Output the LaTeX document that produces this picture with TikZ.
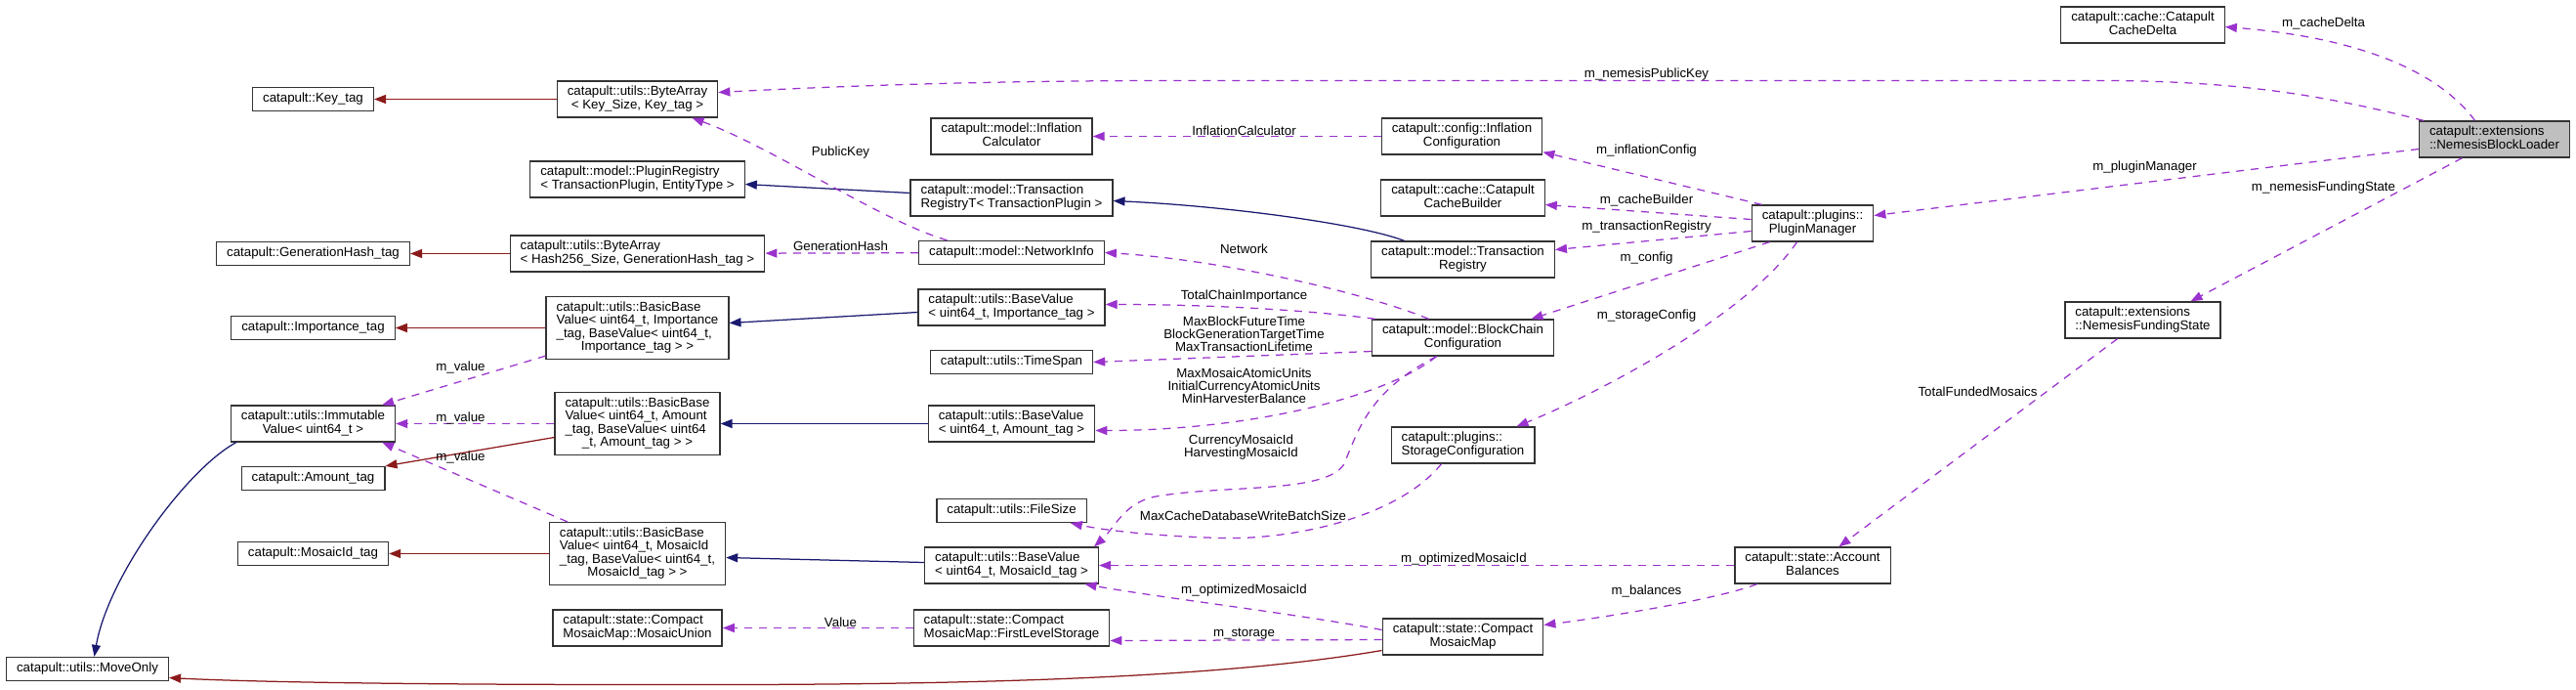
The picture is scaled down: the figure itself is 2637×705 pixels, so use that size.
\documentclass[tikz,border=0pt]{standalone}
\usepackage{fontspec}
\setmainfont{Liberation Sans}
\usetikzlibrary{arrows.meta,scopes}
\definecolor{membercol}{HTML}{9A32CD}
\definecolor{inhcol}{HTML}{191970}
\definecolor{tmplcol}{HTML}{8B1A1A}
\newcommand\dfont{\fontsize{13.3}{13}\selectfont}
\newcommand\twol[2]{\begin{tabular}{@{}l@{}}#1\\\multicolumn{1}{@{}c@{}}{#2}\end{tabular}}
\newcommand\fourl[4]{\begin{tabular}{@{}l@{}}#1\\#2\\#3\\\multicolumn{1}{@{}c@{}}{#4}\end{tabular}}
\begin{document}
\begin{tikzpicture}[
    x=1pt,y=-1pt,
    cls/.style={rectangle,draw=black!80,fill=white,line width=1.3pt,inner xsep=10.5pt,inner ysep=2pt,minimum height=24pt,font=\dfont},
    cls2/.style={cls,minimum height=37pt},
    cls4/.style={cls,minimum height=64pt},
    member/.style={draw=membercol,line width=1.25pt,dash pattern=on 8pt off 7pt,>={Triangle[length=12pt,width=9pt]}},
    inherit/.style={draw=inhcol,line width=1.25pt,>={Triangle[length=12pt,width=9pt]}},
    tmplinst/.style={draw=tmplcol,line width=1.25pt,>={Triangle[length=12pt,width=9pt]}},
    lbl/.style={font=\dfont,inner sep=0pt,align=center},
]
    \useasboundingbox (-0.5,-0.5) rectangle (2636.5,704.5);
    \node[cls] (keytag) at (320,101) {catapult::Key\_tag};
    \node[cls] (genhashtag) at (320,259) {catapult::GenerationHash\_tag};
    \node[cls] (imptag) at (320,335) {catapult::Importance\_tag};
    \node[cls2] (immut) at (320,433) {\twol{catapult::utils::Immutable}{Value< uint64\_t >}};
    \node[cls] (amttag) at (320,489) {catapult::Amount\_tag};
    \node[cls] (midtag) at (320,566) {catapult::MosaicId\_tag};
    \node[cls] (moveonly) at (89,684) {catapult::utils::MoveOnly};
    \node[cls2] (bakey) at (652,101) {\twol{catapult::utils::ByteArray}{< Key\_Size, Key\_tag >}};
    \node[cls2] (plugreg) at (652,183) {\twol{catapult::model::PluginRegistry}{< TransactionPlugin, EntityType >}};
    \node[cls2] (bahash) at (652,259) {\twol{catapult::utils::ByteArray}{< Hash256\_Size, GenerationHash\_tag >}};
    \node[cls4] (bbimp) at (652,335) {\fourl{catapult::utils::BasicBase}{Value< uint64\_t, Importance}{\_tag, BaseValue< uint64\_t,}{Importance\_tag > >}};
    \node[cls4] (bbamt) at (652,433) {\fourl{catapult::utils::BasicBase}{Value< uint64\_t, Amount}{\_tag, BaseValue< uint64}{\_t, Amount\_tag > >}};
    \node[cls4] (bbmid) at (652,566) {\fourl{catapult::utils::BasicBase}{Value< uint64\_t, MosaicId}{\_tag, BaseValue< uint64\_t,}{MosaicId\_tag > >}};
    \node[cls2] (mosunion) at (652,642) {\twol{catapult::state::Compact}{MosaicMap::MosaicUnion}};
    \node[cls2] (inflcalc) at (1035,139) {\twol{catapult::model::Inflation}{Calculator}};
    \node[cls2] (txregt) at (1035,202) {\twol{catapult::model::Transaction}{RegistryT< TransactionPlugin >}};
    \node[cls] (netinfo) at (1035,258) {catapult::model::NetworkInfo};
    \node[cls2] (bvimp) at (1035,314) {\twol{catapult::utils::BaseValue}{< uint64\_t, Importance\_tag >}};
    \node[cls] (timespan) at (1035,370) {catapult::utils::TimeSpan};
    \node[cls2] (bvamt) at (1035,433) {\twol{catapult::utils::BaseValue}{< uint64\_t, Amount\_tag >}};
    \node[cls] (filesize) at (1035,522) {catapult::utils::FileSize};
    \node[cls2] (bvmid) at (1035,578) {\twol{catapult::utils::BaseValue}{< uint64\_t, MosaicId\_tag >}};
    \node[cls2] (fls) at (1035,642) {\twol{catapult::state::Compact}{MosaicMap::FirstLevelStorage}};
    \node[cls2] (inflcfg) at (1496,139) {\twol{catapult::config::Inflation}{Configuration}};
    \node[cls2] (cachebld) at (1497,202) {\twol{catapult::cache::Catapult}{CacheBuilder}};
    \node[cls2] (txreg) at (1497,265) {\twol{catapult::model::Transaction}{Registry}};
    \node[cls2] (bcc) at (1497,345) {\twol{catapult::model::BlockChain}{Configuration}};
    \node[cls2] (storcfg) at (1497,455) {\twol{catapult::plugins::}{StorageConfiguration}};
    \node[cls2] (cmm) at (1497,651) {\twol{catapult::state::Compact}{MosaicMap}};
    \node[cls2] (pm) at (1855,228) {\twol{catapult::plugins::}{PluginManager}};
    \node[cls2] (acctbal) at (1855,578) {\twol{catapult::state::Account}{Balances}};
    \node[cls2] (cachedelta) at (2193,25) {\twol{catapult::cache::Catapult}{CacheDelta}};
    \node[cls2] (nfs) at (2193,327) {\twol{catapult::extensions}{::NemesisFundingState}};
    \node[cls2,fill=black!25] (nbl) at (2553,142) {\twol{catapult::extensions}{::NemesisBlockLoader}};
    {[tmplinst,->]
        \draw (bakey) -- (keytag);
        \draw (bahash) -- (genhashtag);
        \draw (bbimp) -- (imptag);
        \draw ([yshift=-14pt]bbamt.west) -- (amttag.north east);
        \draw (bbmid) -- (midtag);
        \draw ([yshift=-14pt]cmm.west) .. controls (1250,693) and (1000,701) .. (660,700) .. controls (400,700) and (250,697) .. ([yshift=-9pt]moveonly.east);
    }
    {[inherit,->]
        \draw ([xshift=6pt]immut.south west) .. controls (190,480) and (110,590) .. ([xshift=7pt]moveonly.north);
        \draw ([yshift=5pt]txregt.west) -- ([yshift=-5pt]plugreg.east);
        \draw ([xshift=-60pt]txreg.north) .. controls (1390,228) and (1250,210) .. ([yshift=-3pt]txregt.east);
        \draw ([yshift=-5pt]bvimp.west) -- ([yshift=5pt]bbimp.east);
        \draw (bvamt) -- (bbamt);
        \draw ([yshift=3pt]bvmid.west) -- ([yshift=-4pt]bbmid.east);
    }
    {[member,->]
        \draw ([xshift=5pt]nbl.north west) .. controls (2390,100) and (2300,82) .. (2150,82) -- (1200,82) .. controls (1000,82) and (850,88) .. ([yshift=7pt]bakey.east) node[lbl] at (1685,76) {m\_nemesisPublicKey};
        \draw ([xshift=-20pt]nbl.north) .. controls (2505,85) and (2440,40) .. ([yshift=-2pt]cachedelta.east) node[lbl] at (2378,23) {m\_cacheDelta};
        \draw ([yshift=-10pt]nbl.west) -- ([yshift=8pt]pm.east) node[lbl] at (2195,171) {m\_pluginManager};
        \draw ([xshift=-33pt]nbl.south) -- ([xshift=49pt]nfs.north) node[lbl] at (2378,192) {m\_nemesisFundingState};
        \draw ([xshift=-26pt]nfs.south) -- ([xshift=27pt]acctbal.north) node[lbl] at (2024,400) {TotalFundedMosaics};
        \draw (inflcfg) -- (inflcalc) node[lbl] at (1273,133) {InflationCalculator};
        \draw ([xshift=-52pt]pm.north) -- ([yshift=3pt]inflcfg.south east) node[lbl] at (1685,154) {m\_inflationConfig};
        \draw ([yshift=4pt]pm.west) -- ([yshift=-7pt]cachebld.east) node[lbl] at (1685,204) {m\_cacheBuilder};
        \draw ([yshift=-8pt]pm.west) -- ([yshift=10pt]txreg.east) node[lbl] at (1685,232) {m\_transactionRegistry};
        \draw ([xshift=-44pt]pm.south) -- ([xshift=70pt]bcc.north) node[lbl] at (1685,264) {m\_config};
        \draw ([xshift=-16pt]pm.south) .. controls (1790,320) and (1640,400) .. ([xshift=55pt]storcfg.north) node[lbl] at (1685,323) {m\_storageConfig};
        \draw ([xshift=-35pt]bcc.north) .. controls (1400,300) and (1250,265) .. (netinfo.east) node[lbl] at (1273,254) {Network};
        \draw ([xshift=-66pt]netinfo.north) .. controls (900,225) and (790,150) .. ([xshift=56pt]bakey.south) node[lbl] at (860,156) {PublicKey};
        \draw (netinfo) -- (bahash) node[lbl] at (860,251) {GenerationHash};
        \draw ([xshift=-90pt]bcc.north) .. controls (1350,318) and (1250,311) .. ([yshift=3pt]bvimp.east) node[lbl] at (1273,303) {TotalChainImportance};
        \draw ([yshift=-14pt]bcc.west) -- (timespan.east) node[lbl] at (1273,341) {MaxBlockFutureTime\\BlockGenerationTargetTime\\MaxTransactionLifetime};
        \draw ([xshift=-27pt]bcc.south) .. controls (1420,405) and (1280,440) .. ([yshift=-7pt]bvamt.east) node[lbl] at (1273,394) {MaxMosaicAtomicUnits\\InitialCurrencyAtomicUnits\\MinHarvesterBalance};
        \draw ([xshift=-27pt]bcc.south) .. controls (1400,400) and (1390,440) .. (1375,475) .. controls (1355,505) and (1250,495) .. (1180,508) .. controls (1150,515) and (1140,540) .. ([xshift=-5pt]bvmid.north east) node[lbl] at (1270,457) {CurrencyMosaicId\\HarvestingMosaicId};
        \draw ([xshift=-22pt]storcfg.south) .. controls (1430,530) and (1320,552) .. (1250,550) .. controls (1180,548) and (1130,542) .. ([xshift=-17pt]filesize.south east) node[lbl] at (1272,527) {MaxCacheDatabaseWriteBatchSize};
        \draw (acctbal) -- (bvmid) node[lbl] at (1498,572) {m\_optimizedMosaicId};
        \draw ([xshift=-57pt]acctbal.south) .. controls (1760,612) and (1650,630) .. ([yshift=12pt]cmm.east) node[lbl] at (1685,604) {m\_balances};
        \draw ([yshift=7pt]cmm.west) .. controls (1330,628) and (1180,610) .. ([xshift=75pt]bvmid.south) node[lbl] at (1273,604) {m\_optimizedMosaicId};
        \draw ([yshift=-3pt]cmm.west) -- ([yshift=-13pt]fls.east) node[lbl] at (1273,648) {m\_storage};
        \draw (fls) -- (mosunion) node[lbl] at (860,636) {Value};
        \draw ([yshift=4pt]bbimp.south west) -- ([xshift=-14pt]immut.north east) node[lbl] at (471,375) {m\_value};
        \draw (bbamt) -- (immut) node[lbl] at (471,427) {m\_value};
        \draw ([xshift=19pt]bbmid.north west) -- ([xshift=-14pt]immut.south east) node[lbl] at (471,467) {m\_value};
    }
\end{tikzpicture}
\end{document}
